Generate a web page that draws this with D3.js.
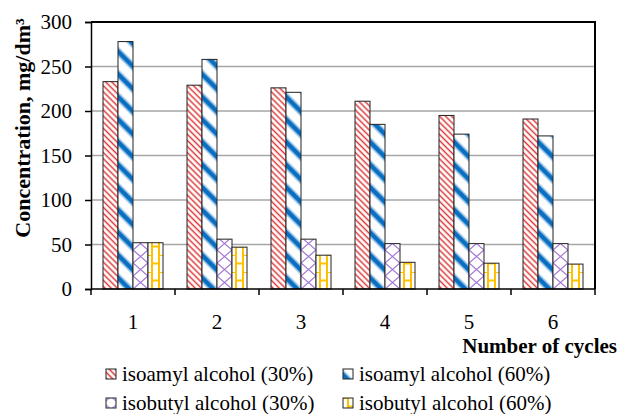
<!DOCTYPE html>
<html lang="en">
<head>
    <meta charset="UTF-8">
    <title>Concentration by cycles</title>
    <script src="https://cdn.jsdelivr.net/npm/d3@7"></script>
    <style>
        body { margin: 0; background: #fff; }
    </style>
</head>
<body>
<script>

    const cycles = ["1", "2", "3", "4", "5", "6"];
    const seriesNames = ["isoamyl alcohol (30%)", "isoamyl alcohol (60%)", "isobutyl alcohol (30%)", "isobutyl alcohol (60%)"];
    const isoamyl30 = [233, 229, 226, 211, 195, 191];
    const isoamyl60 = [278, 258, 221, 185, 174, 172];
    const isobutyl30 = [52, 56, 56, 51, 51, 51];
    const isobutyl60 = [52, 47, 38, 30, 29, 28];
    const yTicks = [0, 50, 100, 150, 200, 250, 300];

    const values = [isoamyl30, isoamyl60, isobutyl30, isobutyl60];
    const width = 619, height = 414;
    const margin = {top: 22, right: 24, bottom: 125, left: 91};
    const serif = "'Liberation Serif', Tinos, 'Times New Roman', 'DejaVu Serif', serif";

    const svg = d3.select("body").append("svg")
        .attr("width", width).attr("height", height)
        .style("font-family", serif);

    // fill patterns, one per series
    const defs = svg.append("defs");
    const red = defs.append("pattern").attr("id", "p0").attr("patternUnits", "userSpaceOnUse")
        .attr("width", 4.3).attr("height", 4.3).attr("patternTransform", "rotate(-45)");
    red.append("rect").attr("width", 4.3).attr("height", 4.3).attr("fill", "#fff");
    red.append("line").attr("x1", 2.1).attr("x2", 2.1).attr("y1", 0).attr("y2", 4.3)
        .attr("stroke", "#dc3a3a").attr("stroke-width", 1.5);

    const blue = defs.append("pattern").attr("id", "p1").attr("patternUnits", "userSpaceOnUse")
        .attr("width", 16).attr("height", 16).attr("patternTransform", "rotate(-45)");
    blue.append("rect").attr("width", 16).attr("height", 16).attr("fill", "#fff");
    blue.append("line").attr("x1", 8).attr("x2", 8).attr("y1", 0).attr("y2", 16)
        .attr("stroke", "#7fb4e0").attr("stroke-width", 7);
    blue.append("line").attr("x1", 8).attr("x2", 8).attr("y1", 0).attr("y2", 16)
        .attr("stroke", "#0a6fc0").attr("stroke-width", 4);

    const purple = defs.append("pattern").attr("id", "p2").attr("patternUnits", "userSpaceOnUse")
        .attr("width", 15).attr("height", 26);
    purple.append("rect").attr("width", 15).attr("height", 26).attr("fill", "#fff");
    purple.append("path").attr("d", "M0,0L15,13L0,26M15,0L0,13L15,26")
        .attr("fill", "none").attr("stroke", "#a57bd6").attr("stroke-width", 1.3);

    const yellow = defs.append("pattern").attr("id", "p3").attr("patternUnits", "userSpaceOnUse")
        .attr("width", 15).attr("height", 17);
    yellow.append("rect").attr("width", 15).attr("height", 17).attr("fill", "#fff");
    yellow.append("path").attr("d", "M4,0V17M11,0V17M4,8.5H11M0,0H4M11,0H15")
        .attr("fill", "none").attr("stroke", "#ffc000").attr("stroke-width", 2);

    const x0 = d3.scaleBand().domain(cycles).range([margin.left, width - margin.right]);
    const x1 = d3.scaleBand().domain(d3.range(seriesNames.length)).range([12, x0.bandwidth() - 12]);
    const y = d3.scaleLinear().domain([0, 300]).range([height - margin.bottom, margin.top]);

    // gridlines
    svg.append("g")
        .selectAll("line")
        .data(yTicks.filter(d => d > 0 && d < 300))
        .join("line")
        .attr("x1", margin.left).attr("x2", width - margin.right)
        .attr("y1", d => y(d)).attr("y2", d => y(d))
        .attr("stroke", "#a6a6a6").attr("stroke-width", 1.5);

    // bars, each in its own group so the pattern starts at the bar's corner
    const groups = svg.append("g")
        .selectAll("g")
        .data(cycles)
        .join("g");

    groups.selectAll("g")
        .data((c, i) => values.map((v, s) => ({s, c, v: v[i]})))
        .join("g")
        .attr("transform", d => `translate(${x0(d.c) + x1(d.s)},${y(0)})`)
        .append("rect")
        .attr("x", 0)
        .attr("y", d => y(d.v) - y(0))
        .attr("width", x1.bandwidth())
        .attr("height", d => y(0) - y(d.v))
        .attr("fill", d => `url(#p${d.s})`)
        .attr("stroke", "#222")
        .attr("stroke-width", 1);

    // frame: top and right border
    svg.append("path")
        .attr("d", `M${margin.left},${y(300)}H${width - margin.right}V${y(0)}`)
        .attr("fill", "none").attr("stroke", "#000").attr("stroke-width", 2);

    // y axis
    const yAxis = svg.append("g")
        .attr("transform", `translate(${margin.left},0)`)
        .call(d3.axisLeft(y).tickValues(yTicks).tickSize(6).tickPadding(13).tickFormat(d3.format("d")))
        .attr("font-family", serif);
    yAxis.select(".domain").attr("stroke", "#000").attr("stroke-width", 1.5);
    yAxis.selectAll(".tick line").attr("stroke", "#000").attr("stroke-width", 1.5);
    yAxis.selectAll("text").attr("font-size", 21).attr("fill", "#000");

    // x axis: ticks at category boundaries
    const xAxis = svg.append("g").attr("transform", `translate(0,${y(0)})`);
    xAxis.append("line")
        .attr("x1", margin.left).attr("x2", width - margin.right)
        .attr("stroke", "#000").attr("stroke-width", 1.5);
    xAxis.selectAll(".bt")
        .data(cycles.map(c => x0(c)).concat([x0(cycles[cycles.length - 1]) + x0.bandwidth()]))
        .join("line")
        .attr("class", "bt")
        .attr("x1", d => d).attr("x2", d => d)
        .attr("y1", 0).attr("y2", 6)
        .attr("stroke", "#000").attr("stroke-width", 1.5);
    xAxis.selectAll("text")
        .data(cycles)
        .join("text")
        .attr("x", d => x0(d) + x0.bandwidth() / 2)
        .attr("y", 40)
        .attr("text-anchor", "middle")
        .attr("font-size", 21)
        .text(d => d);

    // axis titles
    svg.append("text")
        .attr("x", 617).attr("y", 353)
        .attr("text-anchor", "end")
        .attr("font-size", 21).attr("font-weight", "bold")
        .text("Number of cycles");

    svg.append("text")
        .attr("transform", "translate(30,128) rotate(-90)")
        .attr("text-anchor", "middle")
        .attr("font-size", 22).attr("font-weight", "bold")
        .text("Concentration, mg/dm³");

    // legend; swatch offsets pick which part of each pattern shows in the small box
    const legX = [106, 343], legY = [369, 398];
    const swatchShift = [[0, 0], [17, 0], [2.5, 8], [-1, 0]];
    const leg = svg.append("g")
        .selectAll("g")
        .data(seriesNames)
        .join("g")
        .attr("transform", (d, i) => `translate(${legX[i % 2] - swatchShift[i][0]},${legY[Math.floor(i / 2)] - swatchShift[i][1]})`);
    leg.append("rect")
        .attr("x", (d, i) => swatchShift[i][0])
        .attr("y", (d, i) => swatchShift[i][1])
        .attr("width", 10).attr("height", 10)
        .attr("fill", (d, i) => `url(#p${i})`)
        .attr("stroke", "#222").attr("stroke-width", 1);
    leg.append("text")
        .attr("x", (d, i) => swatchShift[i][0] + 16)
        .attr("y", (d, i) => swatchShift[i][1] + 12)
        .attr("font-size", 21)
        .text(d => d);

</script>
</body>
</html>
